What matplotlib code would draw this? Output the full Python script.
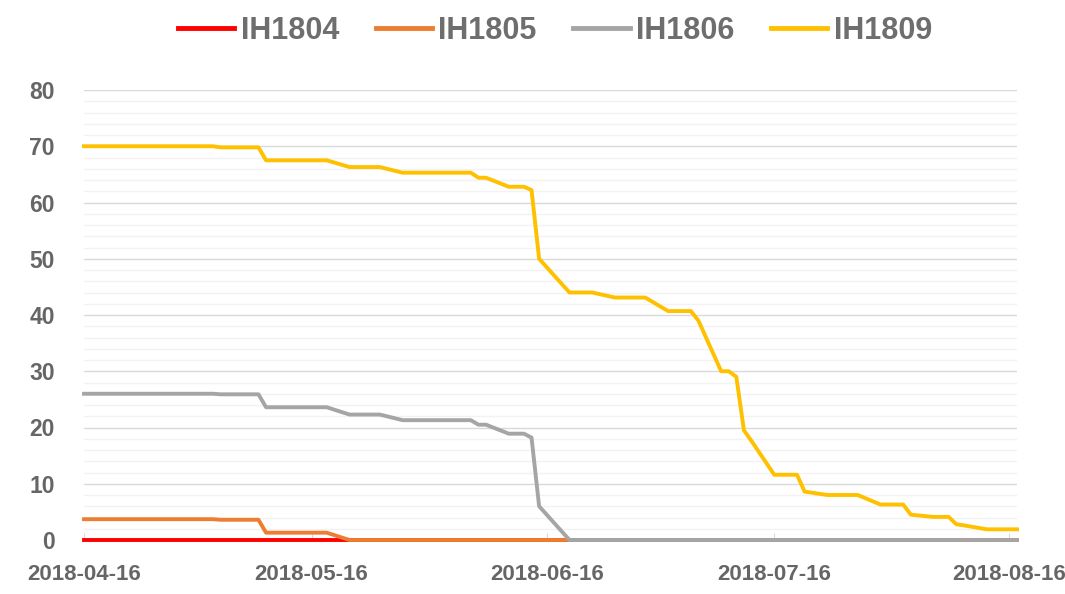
import matplotlib.pyplot as plt
import matplotlib.dates as mdates
import numpy as np
import pandas as pd

plt.rcParams['font.family'] = ['Liberation Sans', 'DejaVu Sans']

# breakpoints of each series (date, value)
d1809 = ["2018-04-16", "2018-05-03", "2018-05-04", "2018-05-09", "2018-05-10", "2018-05-18",
         "2018-05-21", "2018-05-25", "2018-05-28", "2018-06-06", "2018-06-07", "2018-06-08",
         "2018-06-11", "2018-06-13", "2018-06-14", "2018-06-15", "2018-06-19", "2018-06-22",
         "2018-06-25", "2018-06-29", "2018-07-02", "2018-07-05", "2018-07-06", "2018-07-09",
         "2018-07-10", "2018-07-11", "2018-07-12", "2018-07-13", "2018-07-16", "2018-07-19",
         "2018-07-20", "2018-07-23", "2018-07-27", "2018-07-30", "2018-08-02", "2018-08-03",
         "2018-08-06", "2018-08-08", "2018-08-09", "2018-08-10", "2018-08-13", "2018-08-17"]
v1809 = [70, 70, 69.8, 69.8, 67.5, 67.5,
         66.3, 66.3, 65.3, 65.3, 64.4, 64.4,
         62.8, 62.8, 62.2, 50, 44, 44,
         43.1, 43.1, 40.7, 40.7, 39, 30,
         30, 29, 19.5, 17.6, 11.6, 11.6,
         8.6, 8.0, 8.0, 6.3, 6.3, 4.5,
         4.1, 4.1, 2.8, 2.6, 1.9, 1.9]

d1806 = ["2018-04-16", "2018-05-03", "2018-05-04", "2018-05-09", "2018-05-10", "2018-05-18",
         "2018-05-21", "2018-05-25", "2018-05-28", "2018-06-06", "2018-06-07", "2018-06-08",
         "2018-06-11", "2018-06-13", "2018-06-14", "2018-06-15", "2018-06-19", "2018-08-17"]
v1806 = [26, 26, 25.9, 25.9, 23.6, 23.6,
         22.3, 22.3, 21.3, 21.3, 20.5, 20.5,
         18.9, 18.9, 18.2, 6, 0, 0]

d1805 = ["2018-04-16", "2018-05-03", "2018-05-04", "2018-05-09", "2018-05-10", "2018-05-18",
         "2018-05-21", "2018-08-17"]
v1805 = [3.7, 3.7, 3.6, 3.6, 1.3, 1.3, 0, 0]

d1804 = ["2018-04-16", "2018-08-17"]
v1804 = [0, 0]

series = [("IH1804", d1804, v1804, "#FF0000"),
          ("IH1805", d1805, v1805, "#ED7D31"),
          ("IH1806", d1806, v1806, "#A5A5A5"),
          ("IH1809", d1809, v1809, "#FFC000")]

tick_labels = ["2018-04-16", "2018-05-16", "2018-06-16", "2018-07-16", "2018-08-16"]

fig = plt.figure(figsize=(10.65, 5.94), dpi=100)
ax = fig.add_axes([84 / 1065, 1 - 540 / 594, (1017 - 84) / 1065, 450 / 594])

for name, d, v, c in series:
    ax.plot(pd.to_datetime(d), v, color=c, lw=2.8, label=name, clip_on=False, zorder=3)

ax.set_xlim(pd.Timestamp("2018-04-16"), pd.Timestamp("2018-08-17"))
ax.set_ylim(0, 80)
ax.set_yticks(np.arange(0, 81, 10))
ax.set_yticks(np.arange(0, 81, 2), minor=True)
ax.set_xticks(pd.to_datetime(tick_labels))
ax.set_xticklabels(tick_labels)

ax.grid(axis="y", which="major", color="#D9D9D9", lw=1)
ax.grid(axis="y", which="minor", color="#F2F2F2", lw=1)
ax.set_axisbelow(True)

for s in ["left", "right", "top"]:
    ax.spines[s].set_visible(False)
ax.spines["bottom"].set_color("#BFBFBF")
ax.spines["bottom"].set_zorder(1)

ax.tick_params(axis="y", which="both", length=0, pad=21, labelsize=16.5, labelcolor="#666666")
ax.tick_params(axis="x", direction="in", length=5, color="#D9D9D9", pad=17,
               labelsize=16, labelcolor="#666666")
for t in ax.get_xticklabels() + ax.get_yticklabels():
    t.set_fontweight("bold")

leg = fig.legend(loc="center", bbox_to_anchor=(0.521, 0.948), ncol=4, frameon=False,
                 handlelength=1.85, handletextpad=0.2, columnspacing=1.2,
                 prop={"weight": "bold", "size": 22})
for t in leg.get_texts():
    t.set_color("#6E6E6E")
for l in leg.get_lines():
    l.set_linewidth(3.5)

fig.savefig("out.png", dpi=100)
